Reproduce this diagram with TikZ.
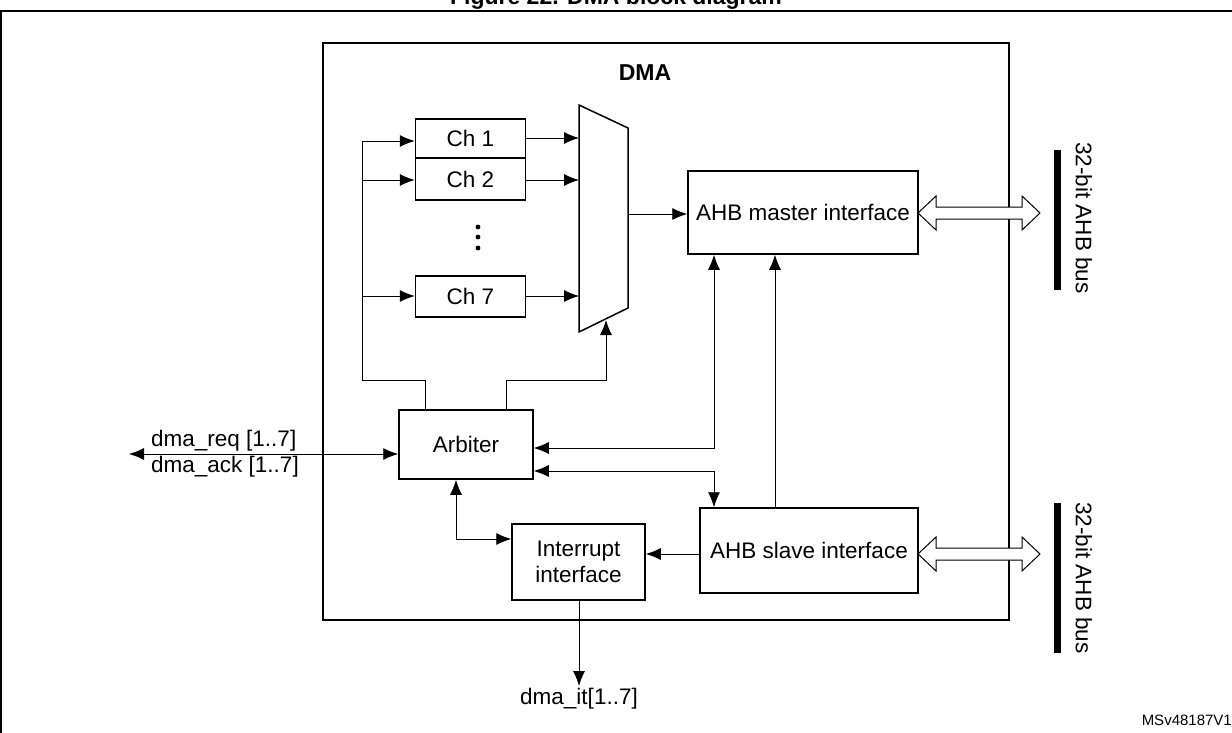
\documentclass[tikz,border=0pt]{standalone}
\usepackage{fontspec}
\setmainfont{Liberation Sans}
\usetikzlibrary{arrows.meta}
\begin{document}
\begin{tikzpicture}[x=1pt,y=-1pt,
  blk/.style={draw,line width=1.5pt,inner sep=0pt,font=\fontsize{22.5}{26}\selectfont},
  con/.style={line width=0.9pt},
  tip/.style={-{Latex[length=15pt,width=12pt]}},
  btip/.style={{Latex[length=15pt,width=12pt]}-{Latex[length=15pt,width=12pt]}},
  lbl/.style={font=\fontsize{22.5}{26}\selectfont,inner sep=0pt},
  bus/.style={line width=1pt,fill=white}]
\useasboundingbox (0,0) rectangle (1232,733);
% frame and title
\draw[line width=2pt] (0,11) -- (1232,11);
\draw[line width=2pt] (1,11) -- (1,733);
\node[font=\bfseries\fontsize{23}{26}\selectfont,anchor=base] (title) at (616,5) {Figure 22. DMA block diagram};
% DMA box
\draw[line width=2.8pt] (323,43) rectangle (1009,620);
\node[font=\bfseries\fontsize{23}{26}\selectfont] (dma) at (645,73) {DMA};
% channels
\node[blk,minimum width=110pt,minimum height=39pt] (ch1) at (470.5,138.5) {Ch 1};
\node[blk,minimum width=110pt,minimum height=42pt] (ch2) at (470.5,179) {Ch 2};
\node[blk,minimum width=110pt,minimum height=41pt] (ch7) at (470.5,296.5) {Ch 7};
\foreach \yy [count=\i] in {227,237,248}{\fill (478,\yy) circle (2.4pt);}
\node (dots) at (478,237) {};
% mux
\draw[line width=1.5pt] (579,105) -- (628,128) -- (628,308) -- (579,332) -- cycle;
\coordinate (mux) at (603,218);
% AHB master / slave
\node[blk,minimum width=230pt,minimum height=83pt] (mst) at (803,212.5) {AHB master interface};
\node[blk,minimum width=218pt,minimum height=85pt] (slv) at (809,550.5) {AHB slave interface};
\node[blk,minimum width=134pt,minimum height=69pt] (arb) at (466,444.5) {Arbiter};
\node[blk,minimum width=133pt,minimum height=76pt,align=center] (irq) at (578.5,562) {Interrupt\\interface};
% channel inputs
\draw[con] (arb.north -| 425,0) -- (425,380) -- (362,380) -- (362,141);
\draw[con,tip] (362,141) -- (ch1.west |- 0,141);
\draw[con,tip] (362,180) -- (ch2.west |- 0,180);
\draw[con,tip] (362,296) -- (ch7.west |- 0,296);
% channel outputs
\draw[con,tip] (ch1.east |- 0,138) -- (579,138);
\draw[con,tip] (ch2.east |- 0,180) -- (579,180);
\draw[con,tip] (ch7.east |- 0,296) -- (579,296);
% mux output
\draw[con,tip] (628,214) -- (mst.west |- 0,214);
% arbiter to mux select
\draw[con,tip] (arb.north -| 506,0) -- (506,380) -- (606,380) -- (606,320);
% arbiter <-> master
\draw[con,btip] (arb.east |- 0,448) -- (714,448) -- (mst.south -| 714,0);
% arbiter <-> slave
\draw[con,btip] (arb.east |- 0,471) -- (714,471) -- (slv.north -| 714,0);
% slave -> master
\draw[con,tip] (slv.north -| 775,0) -- (mst.south -| 775,0);
% arbiter <-> interrupt
\draw[con,btip] (arb.south -| 456,0) -- (456,539) -- (irq.west |- 0,539);
% slave -> interrupt
\draw[con,tip] (slv.west |- 0,554) -- (irq.east |- 0,554);
% interrupt out
\coordinate (itend) at (579,686);
\draw[con,tip] (irq.south -| 579,0) -- (itend);
\node[lbl,anchor=north] (itl) at (579,688) {dma\_it[1..7]};
% dma req/ack
\coordinate (reqend) at (129,454);
\draw[con,btip] (reqend) -- (arb.west |- 0,454);
\node[lbl,anchor=base west] (req) at (151,446) {dma\_req [1..7]};
\node[lbl,anchor=base west] (ack) at (151,472) {dma\_ack [1..7]};
% buses
\draw[line width=7pt] (1057,150) -- (1057,290);
\draw[line width=7pt] (1057,503) -- (1057,653);
\node[lbl,rotate=-90] (b1) at (1084,218) {32-bit AHB bus};
\node[lbl,rotate=-90] (b2) at (1084,578) {32-bit AHB bus};
\foreach \yy in {213,554}{
  \draw[bus] (918,\yy) -- (936,\yy-17) -- (936,\yy-6) -- (1022,\yy-6) -- (1022,\yy-17) -- (1040,\yy)
    -- (1022,\yy+17) -- (1022,\yy+6) -- (936,\yy+6) -- (936,\yy+17) -- cycle;}
\node[font=\fontsize{15}{17}\selectfont,anchor=east,inner sep=0pt] (ms) at (1232,720) {MSv48187V1};
\end{tikzpicture}
\end{document}
